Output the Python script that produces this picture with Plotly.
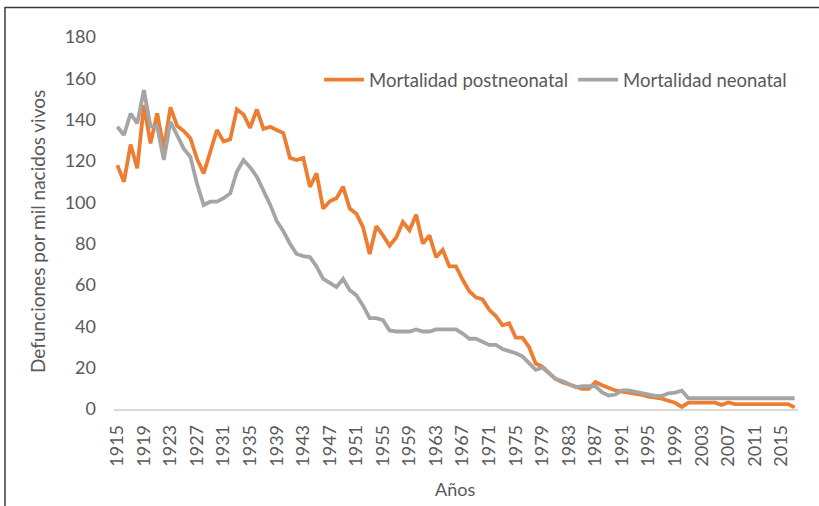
import plotly.graph_objects as go

years = list(range(1915, 2018))

postneonatal = [
    118, 110, 128, 116.5, 147, 128.5, 143, 126, 146, 137,
    134.5, 131, 121, 114, 124.5, 135, 129.5, 130.5, 145, 142.5,
    136, 145, 135.5, 136.5, 135, 133.5, 121.5, 120.5, 121.5, 107.5,
    114, 97, 100.5, 102, 107.5, 97, 94.5, 88, 75, 88.5,
    84, 79, 83, 90.5, 86.5, 94, 80, 84, 73.5, 77,
    69, 69, 62.5, 57, 54, 53, 48, 45, 40.5, 41.5,
    34.5, 34.5, 30, 22, 20.5, 17.3, 14.5, 13, 12, 10.8,
    9.8, 9.8, 13, 11.5, 10.3, 9, 8.4, 8, 7.5, 6.8,
    6, 5.5, 5, 4, 3, 1, 3.1, 3.1, 3.1, 3.1,
    3.1, 2.0, 3.2, 2.4, 2.4, 2.4, 2.4, 2.4, 2.4, 2.4,
    2.4, 2.4, 0.8,
]

neonatal = [
    136.6, 132.6, 143, 138.2, 154.3, 136.6, 136.6, 120.5, 139, 132.6,
    126, 122, 109, 98.7, 100.3, 100.3, 102, 104.3, 114.8, 120.5,
    116.9, 112.4, 106, 99, 91, 86, 80, 75, 74, 73.5,
    69, 63, 61, 59, 63, 57.5, 55, 50, 44, 44,
    43, 38, 37.5, 37.5, 37.5, 38.5, 37.5, 37.5, 38.5, 38.5,
    38.5, 38.5, 36.5, 34, 34, 32.5, 31, 31, 29, 28,
    27, 25.5, 22, 19, 20, 17.5, 14.5, 13.5, 12, 10.5,
    11, 11, 11, 8, 6.5, 7, 9, 9, 8.3, 7.6,
    7, 6.3, 6.3, 7.6, 7.9, 8.9, 5.2, 5.2, 5.2, 5.2,
    5.2, 5.2, 5.2, 5.2, 5.2, 5.2, 5.2, 5.2, 5.2, 5.2,
    5.2, 5.2, 5.2,
]

x_ticks = list(range(1915, 2016, 4))
y_ticks = list(range(0, 181, 20))

FONT = "Lato"
TXT = "#595959"

fig = go.Figure()
fig.add_trace(go.Scatter(
    x=years, y=postneonatal, mode="lines", name="Mortalidad postneonatal",
    line=dict(color="#ED7D31", width=3.8),
))
fig.add_trace(go.Scatter(
    x=years, y=neonatal, mode="lines", name="Mortalidad neonatal",
    line=dict(color="#A5A5A5", width=3.8),
))

L, R, T, B = 114, 21, 37, 97
W, H = 819, 506
pw = W - L - R
ph = H - T - B

def px(x):
    return (x - L) / pw

def py(y):
    return (H - B - y) / ph

fig.update_layout(
    width=W, height=H,
    margin=dict(l=L, r=R, t=T, b=B, autoexpand=False),
    paper_bgcolor="white", plot_bgcolor="white",
    font=dict(family=FONT, color=TXT, size=18),
    showlegend=True,
    legend=dict(
        orientation="h", x=px(319), y=py(80), xanchor="left", yanchor="middle",
        font=dict(size=18.5, color=TXT, family=FONT),
        bgcolor="rgba(0,0,0,0)", itemwidth=40, tracegroupgap=0,
    ),
    xaxis=dict(
        range=[1914.5, 2017.5], tickmode="array", tickvals=x_ticks,
        ticktext=[str(v) for v in x_ticks], tickangle=-90,
        showgrid=False, zeroline=False, showline=True, linecolor="#D9D9D9",
        linewidth=1.5, ticks="", tickfont=dict(size=18, color=TXT),
        automargin=False, ticklabelstandoff=7,
    ),
    yaxis=dict(
        range=[0, 180], tickmode="array", tickvals=y_ticks,
        showgrid=False, zeroline=False, showline=False, ticks="",
        tickfont=dict(size=18, color=TXT), automargin=False,
        ticklabelstandoff=17,
    ),
    annotations=[
        dict(text="Años", xref="paper", yref="paper", x=px(455), y=py(489),
             xanchor="center", yanchor="middle", showarrow=False,
             font=dict(size=18, color=TXT)),
        dict(text="Defunciones por mil nacidos vivos", xref="paper", yref="paper",
             x=px(37), y=py(232), xanchor="center", yanchor="middle", textangle=-90,
             showarrow=False, font=dict(size=19, color=TXT)),
    ],
    shapes=[
        dict(type="line", xref="paper", yref="paper", x0=px(5), x1=px(5), y0=py(7), y1=py(520),
             line=dict(color="#3a3a3a", width=1.5)),
        dict(type="line", xref="paper", yref="paper", x0=px(5), x1=px(830), y0=py(7.5), y1=py(7.5),
             line=dict(color="#3a3a3a", width=1.5)),
    ],
)

fig.write_html(
    "out.html",
    config={"displayModeBar": False},
    post_script="document.body.style.margin='0';document.body.style.overflow='hidden';",
)
